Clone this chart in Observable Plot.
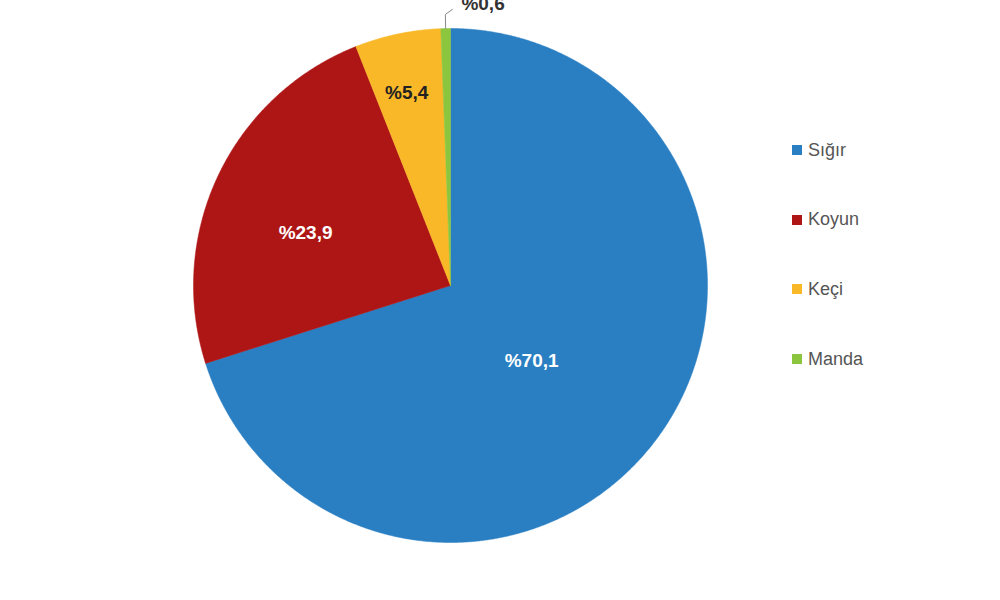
<!DOCTYPE html>
<html>
<head>
<meta charset="utf-8">
<script src="https://cdn.jsdelivr.net/npm/d3@7"></script>
<script src="https://cdn.jsdelivr.net/npm/@observablehq/plot@0.6"></script>
<style>
  html, body { margin: 0; padding: 0; background: #fff; }
  #wrap { position: relative; width: 1000px; height: 600px; overflow: hidden; }
  #legend { position: absolute; left: 792px; top: 138px; font-family: "Liberation Sans", Arial, sans-serif; font-size: 18px; color: #555; }
  .item { display: flex; align-items: center; height: 24px; margin-bottom: 45.7px; }
  .sw { width: 10px; height: 10px; margin-right: 6px; }
</style>
</head>
<body>
<div id="wrap"><div id="chart"></div><div id="legend"></div></div>
<script>
// Data
const categories = ["Sığır", "Koyun", "Keçi", "Manda"];
const shares = [70.1, 23.9, 5.4, 0.6];
const labels = ["%70,1", "%23,9", "%5,4", "%0,6"];
const colors = ["#2a7fc2", "#ae1515", "#f8b828", "#8cc63f"];

// Layout constants
const W = 1000, H = 600, R = 257, CX = 450, CY = 285;
const labelRadius = [0.43, 0.60, 0.77];
const labelAngleShift = [6.6, -5.4, -0.9]; // degrees
const labelFill = ["#fff", "#fff", "#222"];

const pie = d3.pie().sort(null).value(d => d)(shares);
const toXY = (a, r) => [Math.sin(a) * r, Math.cos(a) * r];

// slice polygons
const poly = [];
pie.forEach((p, i) => {
  poly.push({cat: categories[i], x: 0, y: 0});
  const n = Math.max(4, Math.ceil((p.endAngle - p.startAngle) / 0.005));
  for (let k = 0; k <= n; k++) {
    const a = p.startAngle + (p.endAngle - p.startAngle) * k / n;
    const [x, y] = toXY(a, 1);
    poly.push({cat: categories[i], x, y});
  }
  poly.push({cat: categories[i], x: 0, y: 0});
});

// inside labels
const inside = pie.slice(0, 3).map((p, i) => {
  const a = (p.startAngle + p.endAngle) / 2 + labelAngleShift[i] * Math.PI / 180;
  const [x, y] = toXY(a, labelRadius[i]);
  return {x, y, text: labels[i], fill: labelFill[i]};
});

// leader for smallest slice
const pg = pie[3];
const am = (pg.startAngle + pg.endAngle) / 2;
const p0 = toXY(am, 1.0);
const p1 = toXY(am, 1.055);
const p2 = [p1[0] + 7 / R, p1[1] + 5 / R];
const leader = [{x: p0[0], y: p0[1]}, {x: p1[0], y: p1[1]}, {x: p2[0], y: p2[1]}];
const outside = [{x: p2[0] + 9 / R, y: p2[1] + 6 / R, text: labels[3]}];

const chart = Plot.plot({
  width: W, height: H,
  margin: 0,
  x: {domain: [-CX / R, (W - CX) / R], axis: null},
  y: {domain: [-(H - CY) / R, CY / R], axis: null},
  color: {domain: categories, range: colors},
  style: {fontFamily: "'Liberation Sans', Arial, sans-serif", background: "#fff"},
  marks: [
    Plot.line(poly, {x: "x", y: "y", z: "cat", fill: "cat", stroke: "cat", strokeWidth: 0.5, curve: "linear-closed"}),
    Plot.line(leader, {x: "x", y: "y", stroke: "#888", strokeWidth: 1}),
    Plot.text(inside, {x: "x", y: "y", text: "text", fill: "fill", fontSize: 19, fontWeight: "bold"}),
    Plot.text(outside, {x: "x", y: "y", text: "text", fill: "#333", fontSize: 19, fontWeight: "bold", textAnchor: "start"})
  ]
});
document.getElementById("chart").appendChild(chart);

const leg = document.getElementById("legend");
categories.forEach((c, i) => {
  const it = document.createElement("div");
  it.className = "item";
  it.innerHTML = `<span class="sw" style="background:${colors[i]}"></span><span>${c}</span>`;
  leg.appendChild(it);
});
</script>
</body>
</html>
